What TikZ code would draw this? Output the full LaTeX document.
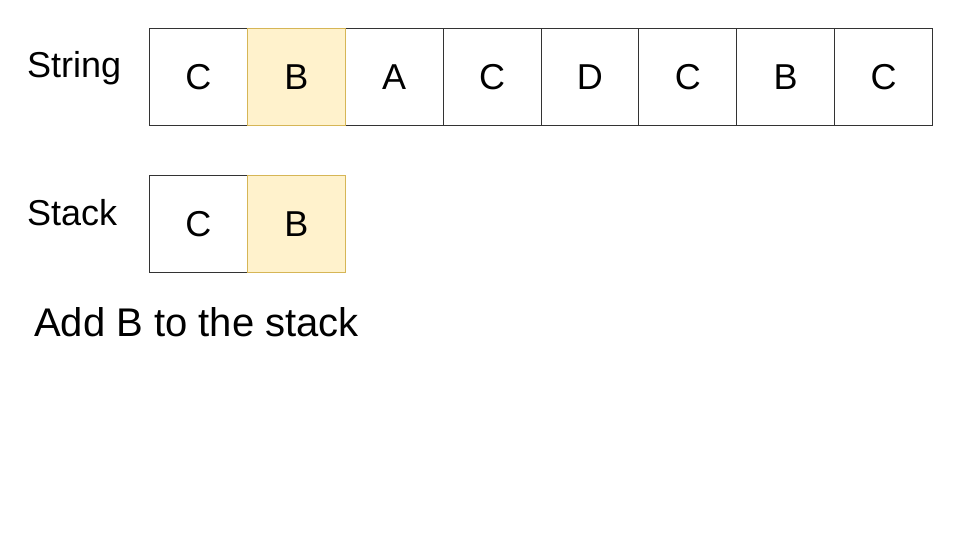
\documentclass[tikz,border=0pt]{standalone}
\usepackage{fontspec}
\setmainfont{Liberation Sans}
\definecolor{hlfill}{HTML}{FFF2CC}
\definecolor{hldraw}{HTML}{D6B656}
\definecolor{celldraw}{HTML}{333333}
\begin{document}
\begin{tikzpicture}[x=1pt,y=-1pt,
  cell/.style={draw=celldraw,line width=1pt,fill=white,minimum width=97.875pt,minimum height=97pt,inner sep=0pt,anchor=north west,font=\fontsize{36}{43}\selectfont},
  hlcell/.style={cell,draw=hldraw,fill=hlfill},
  lbl/.style={anchor=base west,inner sep=0pt,font=\fontsize{36}{43}\selectfont},
  caption/.style={anchor=base west,inner sep=0pt,font=\fontsize{40}{48}\selectfont}]
\useasboundingbox (0,0) rectangle (960,540);
\fill[white] (0,0) rectangle (960,540);
% labels
\node[lbl] (lstring) at (27,78) {String};
\node[lbl] (lstack) at (27,225) {Stack};
% string cells
\node[cell] (s1) at (149,28) {C};
\node[cell] (s3) at (344.75,28) {A};
\node[cell] (s4) at (442.625,28) {C};
\node[cell] (s5) at (540.5,28) {D};
\node[cell] (s6) at (638.375,28) {C};
\node[cell] (s7) at (736.25,28) {B};
\node[cell] (s8) at (834.125,28) {C};
\node[hlcell] (s2) at (246.875,28) {B};
% stack cells
\node[cell] (k1) at (149,175) {C};
\node[hlcell] (k2) at (246.875,175) {B};
% caption
\node[caption] (cap) at (34,336) {Add B to the stack};
\end{tikzpicture}
\end{document}
